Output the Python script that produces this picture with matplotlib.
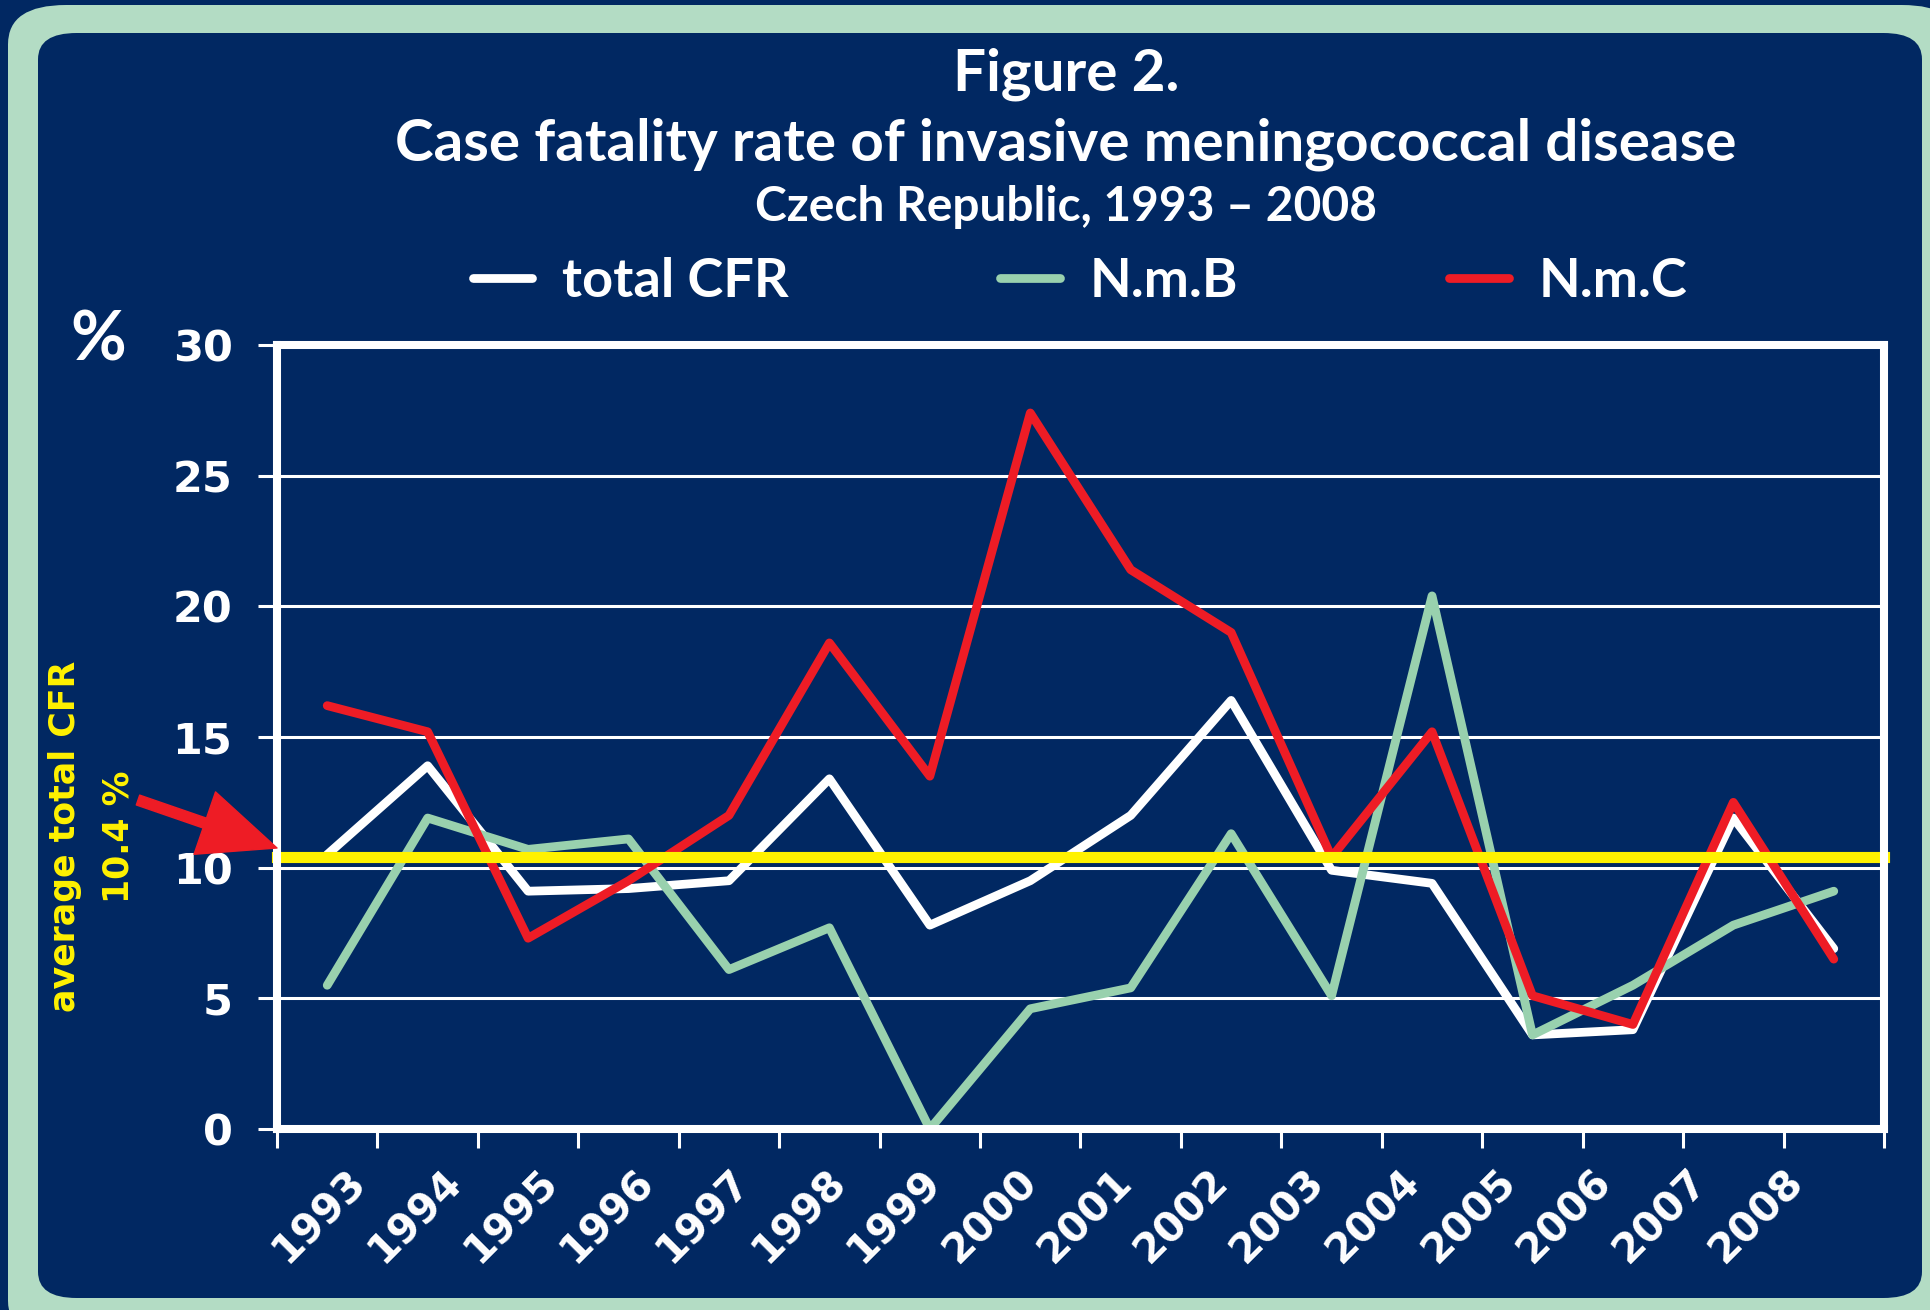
import matplotlib
matplotlib.use("Agg")
import matplotlib.pyplot as plt
from matplotlib.patches import FancyBboxPatch

# data
years = ["1993", "1994", "1995", "1996", "1997", "1998", "1999", "2000",
         "2001", "2002", "2003", "2004", "2005", "2006", "2007", "2008"]
total_cfr = [10.5, 13.9, 9.1, 9.2, 9.5, 13.4, 7.8, 9.5,
             12.0, 16.4, 9.9, 9.4, 3.6, 3.8, 11.9, 6.9]
nmb = [5.5, 11.9, 10.7, 11.1, 6.1, 7.7, 0.0, 4.6,
       5.4, 11.3, 5.1, 20.4, 3.6, 5.5, 7.8, 9.1]
nmc = [16.2, 15.2, 7.3, 9.5, 12.0, 18.6, 13.5, 27.4,
       21.4, 19.0, 10.4, 15.2, 5.1, 4.0, 12.5, 6.5]
avg_cfr = 10.4
yticks = [0, 5, 10, 15, 20, 25, 30]

NAVY = "#012862"
FRAME = "#B3DCC4"
WHITE = "#FFFFFF"
GREEN = "#99D1AE"
RED = "#EE1C25"
YELLOW = "#FFF200"

W, H = 1931, 1310
fig = plt.figure(figsize=(W / 100, H / 100), dpi=100, facecolor=NAVY)


def fx(px):
    return px / W


def fy(py):
    # py measured from the top of the picture
    return 1 - py / H


# rounded light-green frame and the navy panel inside it (behind the axes)
fig.patches.append(FancyBboxPatch((fx(8), fy(1340)), fx(1960 - 8), 1340 / H - 5 / H,
                                  boxstyle="round,pad=0,rounding_size=0.03",
                                  transform=fig.transFigure, facecolor=FRAME,
                                  edgecolor="none", zorder=-2))
fig.patches.append(FancyBboxPatch((fx(38), fy(1298)), fx(1922 - 38), (1298 - 33) / H,
                                  boxstyle="round,pad=0,rounding_size=0.02",
                                  transform=fig.transFigure, facecolor=NAVY,
                                  edgecolor="none", zorder=-1))

title_font = "Lato"
fig.text(fx(1066), fy(74), "Figure 2.", ha="center", va="center", color=WHITE,
         fontsize=42, fontweight="bold", family=title_font)
fig.text(fx(1066), fy(144), "Case fatality rate of invasive meningococcal disease",
         ha="center", va="center", color=WHITE, fontsize=42, fontweight="bold",
         family=title_font)
fig.text(fx(1066), fy(207), "Czech Republic, 1993 \u2013 2008", ha="center", va="center",
         color=WHITE, fontsize=34.5, fontweight="bold", family=title_font)

ax = fig.add_axes([fx(277), fy(1129), fx(1884 - 277), (1129 - 345) / H])
ax.set_facecolor(NAVY)

x = list(range(len(years)))
line_kw = dict(lw=6.3, solid_capstyle="round", solid_joinstyle="round", zorder=3)
l1, = ax.plot(x, total_cfr, color=WHITE, label="total CFR", **line_kw)
l2, = ax.plot(x, nmb, color=GREEN, label="N.m.B", **line_kw)
l3, = ax.plot(x, nmc, color=RED, label="N.m.C", **line_kw)
ax.axhline(avg_cfr, color=YELLOW, lw=8, zorder=4, clip_on=False)

ax.set_xlim(-0.5, len(years) - 0.5)
ax.set_ylim(0, 30)

for s in ax.spines.values():
    s.set_color(WHITE)
    s.set_linewidth(5.8)
    s.set_zorder(5)

ax.set_yticks(yticks)
ax.yaxis.grid(True, color=WHITE, lw=2.2, zorder=1)
ax.set_axisbelow(True)
ax.tick_params(axis="y", colors=WHITE, length=14, width=2.2, pad=18,
               labelsize=31, direction="out")
for lab in ax.get_yticklabels():
    lab.set_fontweight("bold")

# tick marks at category boundaries; the rotated year labels in the original
# sit on a slightly tighter pitch than the categories, so place them likewise
ax.set_xticks([i - 0.5 for i in range(len(years) + 1)], minor=True)
label_pos = [0.33 + 0.954 * i for i in x]
ax.set_xticks(label_pos)
ax.set_xticklabels(years, rotation=45, ha="right", va="center",
                   rotation_mode="anchor", fontweight="bold", fontsize=29.5)
ax.tick_params(axis="x", which="major", length=0, pad=34, colors=WHITE)
ax.tick_params(axis="x", which="minor", length=14, width=2.2, color=WHITE,
               direction="out")

fig.text(fx(98), fy(341), "%", ha="center", va="center", color=WHITE,
         fontsize=49, fontweight="bold", family=title_font)

fig.legend(handles=[l1, l2, l3], loc="center", bbox_to_anchor=(fx(1080), fy(281)),
           ncol=3, frameon=False, handlelength=1.1, handletextpad=0.55,
           columnspacing=3.9, labelcolor=WHITE,
           prop={"family": title_font, "weight": "bold", "size": 39})

# average CFR note with arrow
fig.text(fx(65), fy(836), "average total CFR", rotation=90, ha="center", va="center",
         color=YELLOW, fontsize=25, fontweight="bold")
fig.text(fx(119), fy(837), "10.4 %", rotation=90, ha="center", va="center",
         color=YELLOW, fontsize=25, fontweight="bold")
ax.annotate("", xy=(0, (1129 - 848) / 784), xycoords="axes fraction",
            xytext=(-0.0865, 0.4196), textcoords="axes fraction",
            arrowprops=dict(arrowstyle="simple,head_length=2.2,head_width=1.9,tail_width=0.3",
                            mutation_scale=25, color=RED, shrinkA=0, shrinkB=0),
            annotation_clip=False, zorder=6)

fig.savefig("out.png", dpi=100, facecolor=NAVY)
